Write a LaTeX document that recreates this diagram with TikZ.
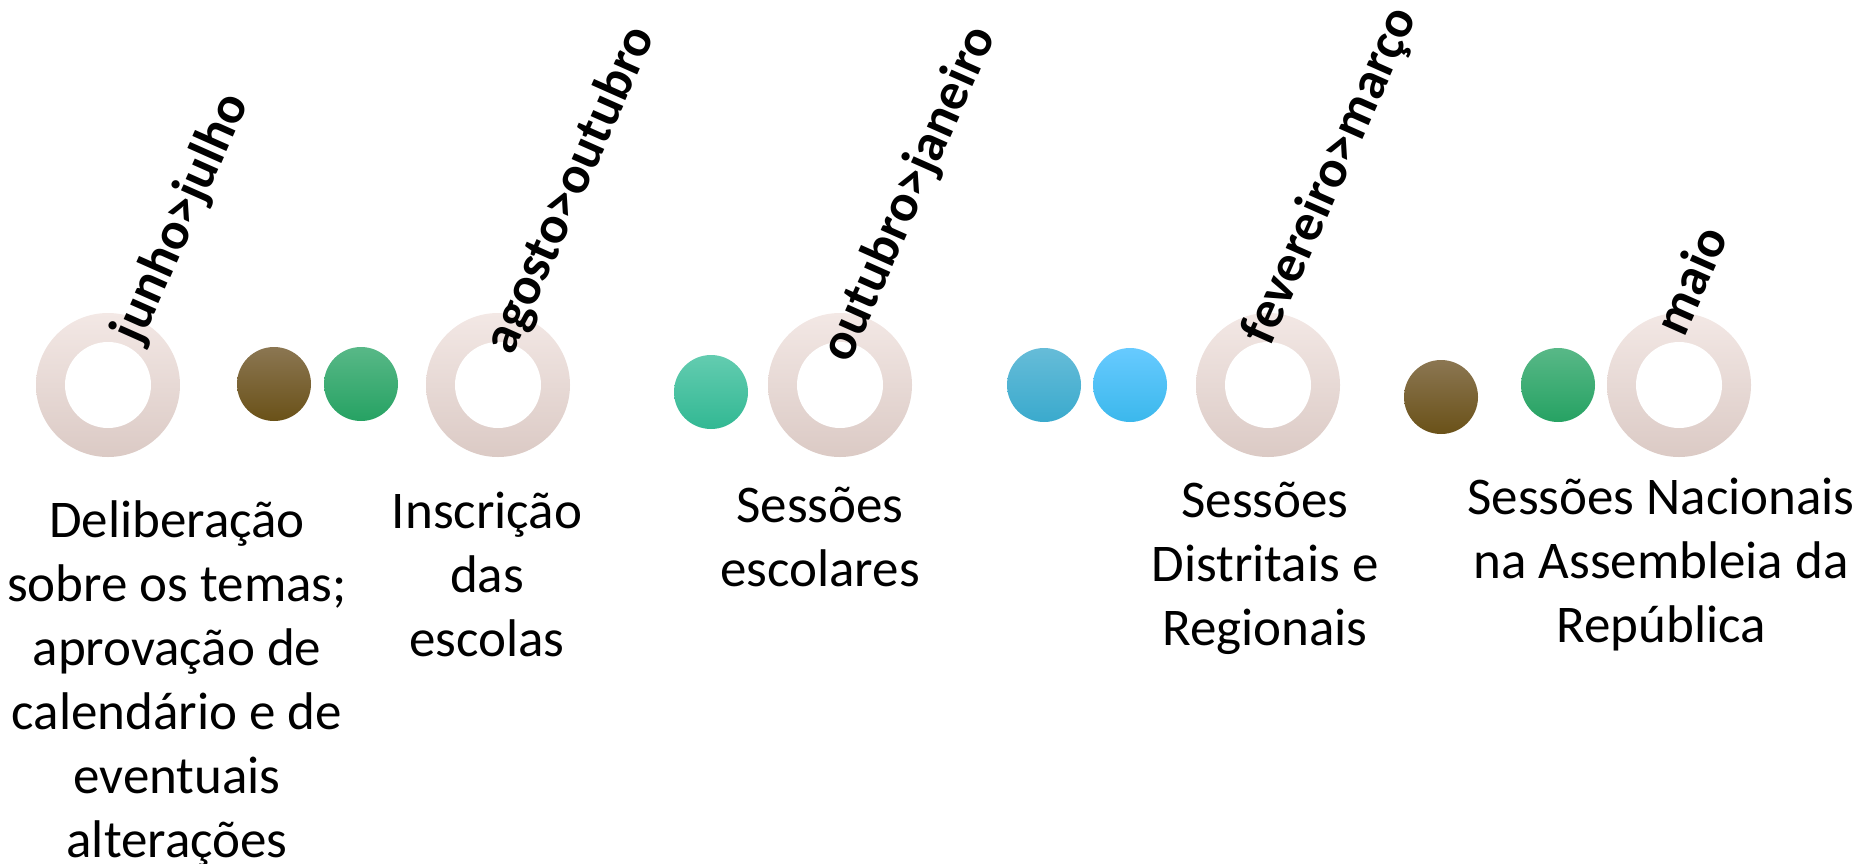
\documentclass[tikz,border=0pt]{standalone}
\usepackage{fontspec}
\setmainfont{Carlito}
\usepackage{tikz}

\definecolor{ringtop}{HTML}{F3E8E5}
\definecolor{ringbot}{HTML}{DBCAC5}
\definecolor{browntop}{HTML}{8B7652}
\definecolor{brownbot}{HTML}{6A5118}
\definecolor{greentop}{HTML}{58B887}
\definecolor{greenbot}{HTML}{26A263}
\definecolor{tealtop}{HTML}{63CCB0}
\definecolor{tealbot}{HTML}{32B893}
\definecolor{bluetop}{HTML}{66BCD8}
\definecolor{bluebot}{HTML}{3AAACD}
\definecolor{skytop}{HTML}{67CAFF}
\definecolor{skybot}{HTML}{3BB8EC}

\begin{document}
\begin{tikzpicture}[x=1pt, y=-1pt,
                ring/.style={circle, minimum size=144pt, inner sep=0pt, top color=ringtop, bottom color=ringbot,
                    path picture={\fill[white] (path picture bounding box.center) circle (43pt);}},
                dot/.style={circle, minimum size=74pt, inner sep=0pt},
                month/.style={font=\fontsize{53}{64}\selectfont\bfseries, rotate=66, inner sep=0pt},
                desc/.style={align=center, font=\fontsize{53}{64}\selectfont, inner sep=0pt, anchor=base}
            ]

            \useasboundingbox (0,0) rectangle (1862,863);

            % Rings
            \node[ring] (jun) at (108, 385) {};
            \node[ring] (ago) at (498, 385) {};
            \node[ring] (out) at (840, 385) {};
            \node[ring] (fev) at (1268, 385) {};
            \node[ring] (mai) at (1679, 385) {};

            % Dots
            \node[dot, top color=browntop, bottom color=brownbot] (d1) at (274, 384) {};
            \node[dot, top color=greentop, bottom color=greenbot] (d2) at (361, 384) {};
            \node[dot, top color=tealtop, bottom color=tealbot] (d3) at (711, 392) {};
            \node[dot, top color=bluetop, bottom color=bluebot] (d4) at (1044, 385) {};
            \node[dot, top color=skytop, bottom color=skybot] (d5) at (1130, 385) {};
            \node[dot, top color=browntop, bottom color=brownbot] (d6) at (1441, 397) {};
            \node[dot, top color=greentop, bottom color=greenbot] (d7) at (1558, 385) {};

            % Months
            \node[month] (ljun) at (182, 218) {junho>julho};
            \node[month] (lago) at (571, 190) {agosto>outubro};
            \node[month] (lout) at (910, 194) {outubro>janeiro};
            \node[month] (lfev) at (1331, 176) {fevereiro>março};
            \node[month] (lmai) at (1690, 280) {maio};

            % Texts (anchored at the last line)
            \node[desc] (tjun) at (177, 857) {Deliberação\\sobre os temas;\\aprovação de\\calendário e de\\eventuais\\alterações};
            \node[desc] (tago) at (487, 656) {Inscrição\\das\\escolas};
            \node[desc] (tout) at (820, 586) {Sessões\\escolares};
            \node[desc] (tfev) at (1265, 645) {Sessões\\Distritais e\\Regionais};
            \node[desc] (tmai) at (1661, 642) {Sessões Nacionais\\na Assembleia da\\República};

        \end{tikzpicture}
\end{document}
